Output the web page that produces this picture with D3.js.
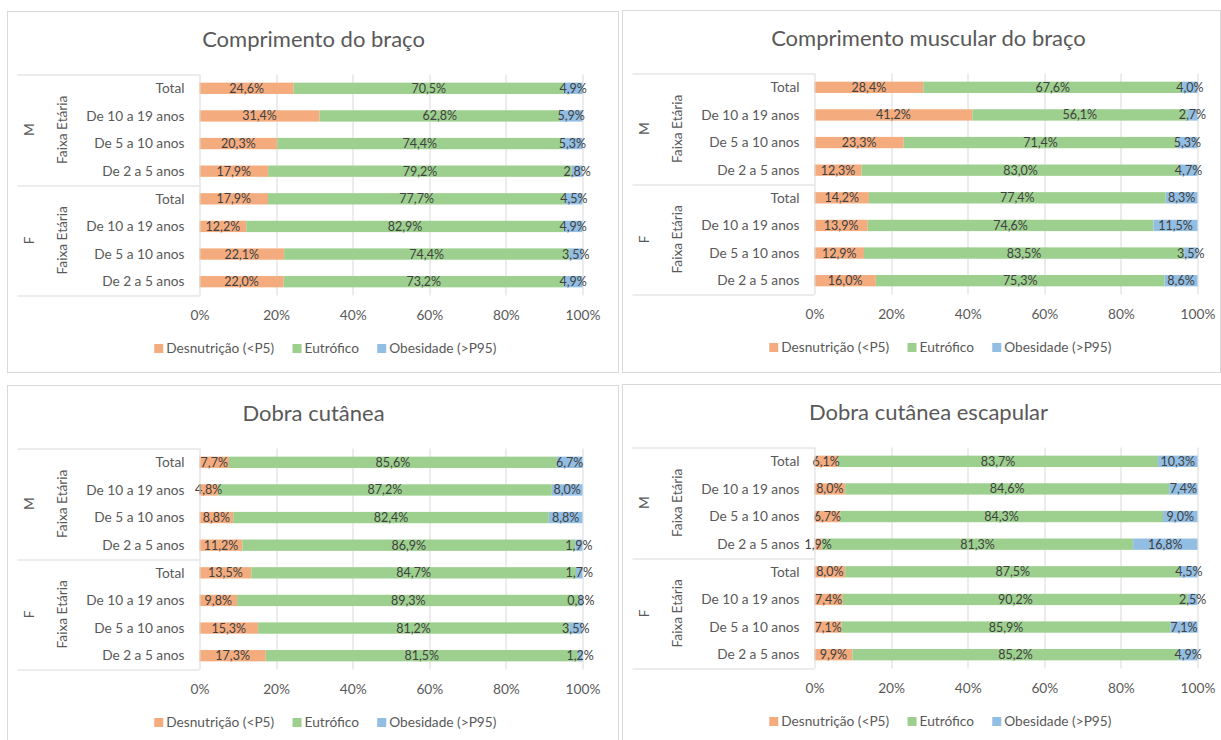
<!DOCTYPE html>
<html lang="pt">
<head>
<meta charset="utf-8">
<title>Antropometria</title>
<script src="https://d3js.org/d3.v7.min.js"></script>
<style>
  body { margin: 0; background: #fff; }
  text { font-family: Lato, "Open Sans", sans-serif; }
</style>
</head>
<body>
<script>
// categories (top to bottom on the chart)
var sexes = ["M", "F"];
var ageGroups = ["Total", "De 10 a 19 anos", "De 5 a 10 anos", "De 2 a 5 anos"];
var groupLabel = "Faixa Etária";
var seriesNames = ["Desnutrição (<P5)", "Eutrófico", "Obesidade (>P95)"];
var ticks = [0, 20, 40, 60, 80, 100];

var titles = ["Comprimento do braço", "Comprimento muscular do braço", "Dobra cutânea", "Dobra cutânea escapular"];

// values, % in row order: M Total, M 10-19, M 5-10, M 2-5, F Total, F 10-19, F 5-10, F 2-5
var bracoDesn = [24.6, 31.4, 20.3, 17.9, 17.9, 12.2, 22.1, 22.0];
var bracoEutr = [70.5, 62.8, 74.4, 79.2, 77.7, 82.9, 74.4, 73.2];
var bracoObes = [4.9, 5.9, 5.3, 2.8, 4.5, 4.9, 3.5, 4.9];

var muscDesn = [28.4, 41.2, 23.3, 12.3, 14.2, 13.9, 12.9, 16.0];
var muscEutr = [67.6, 56.1, 71.4, 83.0, 77.4, 74.6, 83.5, 75.3];
var muscObes = [4.0, 2.7, 5.3, 4.7, 8.3, 11.5, 3.5, 8.6];

var dobraDesn = [7.7, 4.8, 8.8, 11.2, 13.5, 9.8, 15.3, 17.3];
var dobraEutr = [85.6, 87.2, 82.4, 86.9, 84.7, 89.3, 81.2, 81.5];
var dobraObes = [6.7, 8.0, 8.8, 1.9, 1.7, 0.8, 3.5, 1.2];

var escapDesn = [6.1, 8.0, 6.7, 1.9, 8.0, 7.4, 7.1, 9.9];
var escapEutr = [83.7, 84.6, 84.3, 81.3, 87.5, 90.2, 85.9, 85.2];
var escapObes = [10.3, 7.4, 9.0, 16.8, 4.5, 2.5, 7.1, 4.9];

var colors = ["#F4AC7F", "#9DD08E", "#92BEE4"];
var gridColor = "#d9d9d9";
var textColor = "#595959";

var W = 1221, H = 740;
var svg = d3.select("body").append("svg")
    .attr("width", W)
    .attr("height", H);

var panels = [
  {x: 7.5, y: 11.5, w: 611, h: 361, title: titles[0], series: [bracoDesn, bracoEutr, bracoObes]},
  {x: 622.5, y: 10.5, w: 598, h: 362, title: titles[1], series: [muscDesn, muscEutr, muscObes]},
  {x: 7.5, y: 385.5, w: 611, h: 400, title: titles[2], series: [dobraDesn, dobraEutr, dobraObes]},
  {x: 622.5, y: 384.5, w: 620, h: 400, title: titles[3], series: [escapDesn, escapEutr, escapObes]}
];

var fmt = function(v) { return d3.format(".1f")(v).replace(".", ",") + "%"; };

panels.forEach(drawPanel);

function drawPanel(p) {
  var g = svg.append("g").attr("transform", "translate(" + p.x + "," + p.y + ")");

  g.append("rect")
      .attr("width", p.w)
      .attr("height", p.h)
      .style("fill", "#fff")
      .style("stroke", gridColor)
      .style("stroke-width", 1);

  g.append("text")
      .attr("x", 306)
      .attr("y", 28)
      .attr("dy", "0.35em")
      .attr("text-anchor", "middle")
      .style("font-size", "22px")
      .style("fill", textColor)
      .text(p.title);

  var plotX = 192, plotW = 383, plotTop = 63, plotBottom = 284;

  var rows = [];
  sexes.forEach(function(s) {
    ageGroups.forEach(function(a) { rows.push(s + "|" + a); });
  });

  var x = d3.scaleLinear().domain([0, 100]).range([plotX, plotX + plotW]);
  var y = d3.scaleBand().domain(rows).range([plotTop, plotBottom])
      .paddingInner(0.59).paddingOuter(0.295);

  // gridlines
  g.selectAll(".grid")
      .data(ticks.filter(function(d) { return d > 0; }))
      .enter().append("line")
      .attr("x1", function(d) { return Math.round(x(d)) + 0.5; })
      .attr("x2", function(d) { return Math.round(x(d)) + 0.5; })
      .attr("y1", plotTop)
      .attr("y2", plotBottom)
      .style("stroke", gridColor);

  // stacked rows, normalised to 100%
  var table = rows.map(function(r, i) {
    var vals = p.series.map(function(s) { return s[i]; });
    var tot = d3.sum(vals);
    var o = {key: r};
    vals.forEach(function(v, k) { o["s" + k] = v / tot * 100; o["v" + k] = v; });
    return o;
  });
  var stack = d3.stack().keys(["s0", "s1", "s2"])(table);

  var layer = g.selectAll(".layer")
      .data(stack)
      .enter().append("g")
      .style("fill", function(d, i) { return colors[i]; });

  layer.selectAll("rect")
      .data(function(d) { return d; })
      .enter().append("rect")
      .attr("x", function(d) { return x(d[0]); })
      .attr("width", function(d) { return x(d[1]) - x(d[0]); })
      .attr("y", function(d) { return y(d.data.key); })
      .attr("height", y.bandwidth());

  // data labels on top of all bars
  var labels = g.append("g");
  stack.forEach(function(s, k) {
    labels.selectAll(".lab" + k)
        .data(s)
        .enter().append("text")
        .attr("x", function(d) { return (x(d[0]) + x(d[1])) / 2; })
        .attr("y", function(d) { return y(d.data.key) + y.bandwidth() / 2; })
        .attr("dy", "0.36em")
        .attr("text-anchor", "middle")
        .style("font-size", "12.5px")
        .style("fill", "#404040")
        .text(function(d) { return fmt(d.data["v" + k]); });
  });

  // category box
  var mid = y("F|Total") - y.step() * y.paddingInner() / 2;
  var boxL = 10;
  [plotTop, mid, plotBottom].forEach(function(yy) {
    g.append("line")
        .attr("x1", boxL).attr("x2", plotX)
        .attr("y1", Math.round(yy) + 0.5).attr("y2", Math.round(yy) + 0.5)
        .style("stroke", gridColor);
  });
  g.append("line")
      .attr("x1", plotX + 0.5).attr("x2", plotX + 0.5)
      .attr("y1", plotTop).attr("y2", plotBottom)
      .style("stroke", gridColor);

  g.selectAll(".cat")
      .data(rows)
      .enter().append("text")
      .attr("x", plotX - 15)
      .attr("y", function(d) { return y(d) + y.bandwidth() / 2; })
      .attr("dy", "0.35em")
      .attr("text-anchor", "end")
      .style("font-size", "13.7px")
      .style("fill", textColor)
      .text(function(d) { return d.split("|")[1]; });

  sexes.forEach(function(s, i) {
    var top = i === 0 ? plotTop : mid;
    var bot = i === 0 ? mid : plotBottom;
    var cy = (top + bot) / 2;
    g.append("text")
        .attr("transform", "translate(55," + cy + ") rotate(-90)")
        .attr("dy", "0.35em")
        .attr("text-anchor", "middle")
        .style("font-size", "13.7px")
        .style("fill", textColor)
        .text(groupLabel);
    g.append("text")
        .attr("transform", "translate(22," + cy + ") rotate(-90)")
        .attr("dy", "0.35em")
        .attr("text-anchor", "middle")
        .style("font-size", "13.7px")
        .style("fill", textColor)
        .text(s);
  });

  // x axis labels
  var axis = d3.axisBottom(x).tickValues(ticks).tickSize(0).tickPadding(15)
      .tickFormat(function(d) { return d + "%"; });
  var ax = g.append("g").attr("transform", "translate(0," + plotBottom + ")").call(axis);
  ax.select(".domain").remove();
  ax.selectAll("text")
      .style("font-family", "Lato, sans-serif")
      .style("font-size", "13.7px")
      .style("fill", textColor);

  // legend
  var leg = g.append("g").attr("transform", "translate(0,337)");
  var items = leg.selectAll(".item")
      .data(seriesNames)
      .enter().append("g");
  items.append("rect")
      .attr("width", 9).attr("height", 9)
      .attr("y", -4.5)
      .style("fill", function(d, i) { return colors[i]; });
  items.append("text")
      .attr("x", 12)
      .attr("dy", "0.35em")
      .style("font-size", "13.7px")
      .style("fill", textColor)
      .text(function(d) { return d; });
  var offs = [], acc = 0;
  items.each(function() {
    offs.push(acc);
    acc += this.getBBox().width + 18;
  });
  acc -= 18;
  var start = 318 - acc / 2;
  items.attr("transform", function(d, i) { return "translate(" + (start + offs[i]) + ",0)"; });
}
</script>
</body>
</html>
